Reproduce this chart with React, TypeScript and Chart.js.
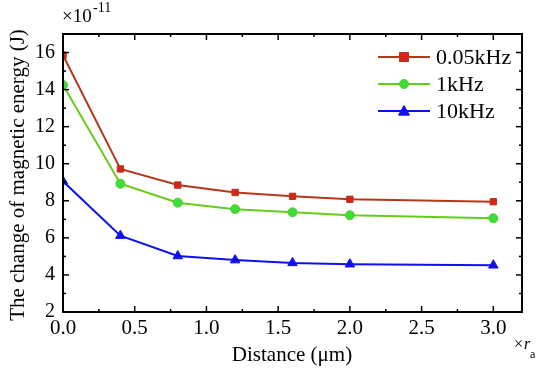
import React, { useEffect, useRef } from "react";
import { Chart, registerables } from "chart.js";

Chart.register(...registerables);

const distances = [0, 0.4, 0.8, 1.2, 1.6, 2.0, 3.0];
const series005kHz = [15.85, 9.72, 8.85, 8.45, 8.24, 8.08, 7.95];
const series1kHz = [14.25, 8.92, 7.9, 7.55, 7.38, 7.22, 7.06];
const series10kHz = [9.05, 6.12, 5.02, 4.8, 4.65, 4.58, 4.52];
const seriesLabels = ["0.05kHz", "1kHz", "10kHz"];
const xTicks = [0, 0.5, 1.0, 1.5, 2.0, 2.5, 3.0];
const yTicks = [2, 4, 6, 8, 10, 12, 14, 16];
const xMinorTicks = [0.25, 0.75, 1.25, 1.75, 2.25, 2.75];
const yMinorTicks = [3, 5, 7, 9, 11, 13, 15, 17];

const FONT = '"Liberation Serif", "Times New Roman", serif';

const colors = [
  { line: "#B3391C", point: "#D8231A", border: "#B3391C", style: "rect", radius: 4.5 },
  { line: "#66CC1A", point: "#3CDD3C", border: "#55CC22", style: "circle", radius: 4.5 },
  { line: "#1010EE", point: "#1010EE", border: "#1010EE", style: "triangle", radius: 5.5 },
];

const decorPlugin = {
  id: "decor",
  afterDraw(chart: any) {
    const ctx = chart.ctx as CanvasRenderingContext2D;
    const { left, right, top, bottom } = chart.chartArea;
    const xs = chart.scales.x;
    const ys = chart.scales.y;
    ctx.save();
    ctx.strokeStyle = "#000";
    ctx.lineWidth = 2;
    ctx.strokeRect(left, top, right - left, bottom - top);
    ctx.lineWidth = 1.5;
    const tick = (x1: number, y1: number, x2: number, y2: number) => {
      ctx.beginPath();
      ctx.moveTo(x1, y1);
      ctx.lineTo(x2, y2);
      ctx.stroke();
    };
    xTicks.forEach((v) => {
      const px = xs.getPixelForValue(v);
      tick(px, bottom, px, bottom - 6);
      tick(px, top, px, top + 6);
    });
    xMinorTicks.forEach((v) => {
      const px = xs.getPixelForValue(v);
      tick(px, bottom, px, bottom - 3);
      tick(px, top, px, top + 3);
    });
    yTicks.forEach((v) => {
      const py = ys.getPixelForValue(v);
      tick(left, py, left + 6, py);
      tick(right, py, right - 6, py);
    });
    yMinorTicks.forEach((v) => {
      const py = ys.getPixelForValue(v);
      tick(left, py, left + 3, py);
      tick(right, py, right - 3, py);
    });

    ctx.fillStyle = "#000";
    ctx.font = `21px ${FONT}`;
    ctx.textAlign = "center";
    ctx.textBaseline = "alphabetic";
    ctx.fillText("Distance (\u03BCm)", 292, 361);
    ctx.save();
    ctx.translate(24, 175);
    ctx.rotate(-Math.PI / 2);
    ctx.fillText("The change of magnetic energy (J)", 0, 0);
    ctx.restore();

    ctx.textAlign = "left";
    ctx.font = `19px ${FONT}`;
    ctx.fillText("\u00D710", 62, 22);
    ctx.font = `14px ${FONT}`;
    ctx.fillText("-11", 93, 12);

    ctx.font = `16px ${FONT}`;
    ctx.fillText("\u00D7", 514, 349);
    ctx.font = `italic 16px ${FONT}`;
    ctx.fillText("r", 524, 349);
    ctx.font = `12px ${FONT}`;
    ctx.fillText("a", 530, 358);

    const rows = [57, 84, 111];
    rows.forEach((ry, i) => {
      const c = colors[i];
      ctx.strokeStyle = c.line;
      ctx.lineWidth = 2;
      tick(378, ry, 430, ry);
      ctx.fillStyle = c.point;
      ctx.strokeStyle = c.border;
      ctx.lineWidth = 1;
      const r = c.radius;
      ctx.beginPath();
      if (c.style === "rect") {
        ctx.rect(404 - r, ry - r, 2 * r, 2 * r);
      } else if (c.style === "circle") {
        ctx.arc(404, ry, r, 0, Math.PI * 2);
      } else {
        ctx.moveTo(404, ry - r);
        ctx.lineTo(404 + r, ry + r * 0.75);
        ctx.lineTo(404 - r, ry + r * 0.75);
        ctx.closePath();
      }
      ctx.fill();
      ctx.stroke();
      ctx.fillStyle = "#000";
      ctx.font = `22px ${FONT}`;
      ctx.textBaseline = "middle";
      ctx.fillText(seriesLabels[i], 436, ry + 1);
    });
    ctx.restore();
  },
};

export default function App() {
  const ref = useRef<HTMLCanvasElement | null>(null);
  useEffect(() => {
    if (!ref.current) return;
    const all = [series005kHz, series1kHz, series10kHz];
    const chart = new Chart(ref.current, {
      type: "line",
      data: {
        datasets: all.map((s, i) => ({
          label: seriesLabels[i],
          data: distances.map((x, j) => ({ x, y: s[j] })),
          borderColor: colors[i].line,
          backgroundColor: colors[i].point,
          pointBackgroundColor: colors[i].point,
          pointBorderColor: colors[i].border,
          pointBorderWidth: 1,
          pointStyle: colors[i].style as any,
          pointRadius: colors[i].radius,
          borderWidth: 2,
          tension: 0,
          fill: false,
        })),
      },
      options: {
        animation: false,
        responsive: false,
        maintainAspectRatio: false,
        layout: { padding: { left: 0, top: 34, right: 28, bottom: 0 } },
        plugins: { legend: { display: false }, tooltip: { enabled: false } },
        scales: {
          x: {
            type: "linear",
            min: 0,
            max: 3.2,
            afterFit: (s: any) => {
              s.height = 57;
            },
            afterBuildTicks: (s: any) => {
              s.ticks = xTicks.map((v) => ({ value: v }));
            },
            grid: { display: false, drawTicks: false },
            border: { display: false },
            ticks: {
              padding: 4,
              color: "#000",
              font: { family: FONT, size: 21 },
              maxRotation: 0,
              callback: (v: any) => Number(v).toFixed(1),
            },
          },
          y: {
            type: "linear",
            min: 2,
            max: 17,
            afterFit: (s: any) => {
              s.width = 63;
            },
            afterBuildTicks: (s: any) => {
              s.ticks = yTicks.map((v) => ({ value: v }));
            },
            grid: { display: false, drawTicks: false },
            border: { display: false },
            ticks: {
              padding: 8,
              color: "#000",
              font: { family: FONT, size: 20 },
              callback: (v: any) => String(v),
            },
          },
        },
      },
      plugins: [decorPlugin],
    });
    return () => chart.destroy();
  }, []);
  return (
    <div style={{ position: "fixed", left: 0, top: 0, width: 550, height: 369, background: "#fff" }}>
      <canvas ref={ref} width={550} height={369} style={{ width: 550, height: 369 }} />
    </div>
  );
}
